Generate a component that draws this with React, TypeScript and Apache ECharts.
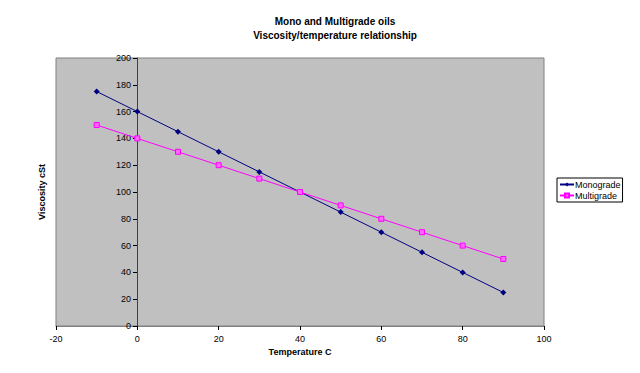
import React, { useEffect, useRef } from "react";
import * as echarts from "echarts";

const temperatures = [-10, 0, 10, 20, 30, 40, 50, 60, 70, 80, 90];
const monograde = [175, 160, 145, 130, 115, 100, 85, 70, 55, 40, 25];
const multigrade = [150, 140, 130, 120, 110, 100, 90, 80, 70, 60, 50];

export default function App() {
  const ref = useRef<HTMLDivElement>(null);
  useEffect(() => {
    if (!ref.current) return;
    const chart = echarts.init(ref.current, null, { renderer: "svg" });
    const font = "Liberation Sans, Arial, sans-serif";
    chart.setOption({
      animation: false,
      backgroundColor: "#ffffff",
      textStyle: { fontFamily: font },
      title: {
        text: "Mono and Multigrade oils\nViscosity/temperature relationship",
        left: 330,
        textAlign: "center",
        top: 9,
        textStyle: { fontSize: 10, fontWeight: "bold", color: "#000", lineHeight: 14, fontFamily: font },
      },
      graphic: [
        {
          type: "text",
          x: 42,
          y: 192,
          rotation: Math.PI / 2,
          style: {
            text: "Viscosity cSt",
            align: "center",
            verticalAlign: "middle",
            fontSize: 9,
            fontWeight: "bold",
            fontFamily: font,
            fill: "#000",
          },
        },
      ],
      legend: {
        left: 557,
        top: 178,
        orient: "vertical",
        backgroundColor: "#fff",
        borderColor: "#000",
        borderWidth: 1,
        padding: [2, 2, 2, 2],
        itemGap: 2,
        itemWidth: 14,
        itemHeight: 5,
        textStyle: { fontSize: 9, color: "#000", fontFamily: font, padding: [0, 0, 0, -4] },
        data: ["Monograde", "Multigrade"],
      },
      grid: {
        left: 56,
        top: 58,
        right: 96,
        bottom: 47,
        show: true,
        backgroundColor: "#c0c0c0",
        borderColor: "#808080",
        borderWidth: 1,
      },
      xAxis: {
        type: "value",
        min: -20,
        max: 100,
        interval: 20,
        name: "Temperature C",
        nameLocation: "middle",
        nameGap: 21,
        nameTextStyle: { fontSize: 9, fontWeight: "bold", color: "#000", fontFamily: font },
        axisLine: { show: true, onZero: false, lineStyle: { color: "#808080" } },
        axisTick: { show: true, length: 4, inside: false, lineStyle: { color: "#000" } },
        axisLabel: { fontSize: 9, color: "#000", margin: 8 },
        splitLine: { show: false },
      },
      yAxis: {
        type: "value",
        min: 0,
        max: 200,
        interval: 20,
        position: "left",
        offset: -81,
        axisLine: { show: true, onZero: false, lineStyle: { color: "#404040" } },
        axisTick: { show: true, length: 4, lineStyle: { color: "#000" } },
        axisLabel: { fontSize: 9, color: "#000", margin: 6 },
        splitLine: { show: false },
      },
      series: [
        {
          name: "Monograde",
          type: "line",
          data: temperatures.map((t, i) => [t, monograde[i]]),
          color: "#000080",
          lineStyle: { width: 1, color: "#000080" },
          symbol: "diamond",
          symbolSize: 6,
          itemStyle: { color: "#000080" },
        },
        {
          name: "Multigrade",
          type: "line",
          data: temperatures.map((t, i) => [t, multigrade[i]]),
          color: "#ff00ff",
          lineStyle: { width: 1, color: "#ff00ff" },
          symbol: "rect",
          symbolSize: 5,
          itemStyle: { color: "#ff66ff", borderColor: "#ff00ff", borderWidth: 1 },
        },
      ],
    });
    return () => chart.dispose();
  }, []);
  return (
    <div
      ref={ref}
      style={{ position: "fixed", left: 0, top: 0, width: 640, height: 373 }}
    />
  );
}
